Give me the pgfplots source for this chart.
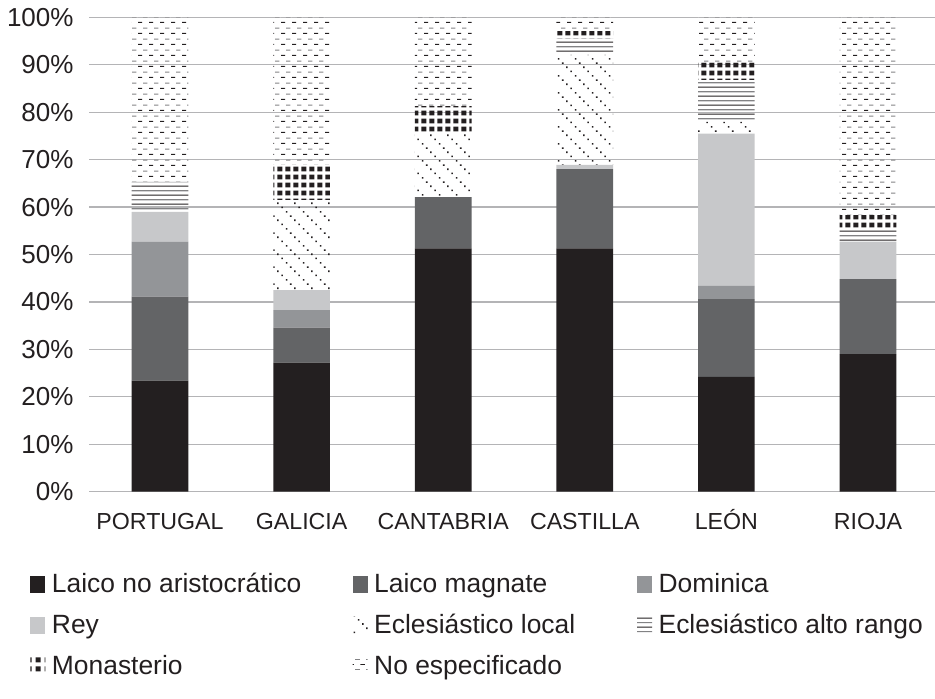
\documentclass[border=0pt]{standalone}
\usepackage{fontspec}
\setmainfont{Liberation Sans}
\usepackage{pgfplots}
\pgfplotsset{compat=1.18}
\usetikzlibrary{patterns}

\definecolor{cNegro}{RGB}{35,31,32}
\definecolor{cMagnate}{RGB}{99,100,102}
\definecolor{cDominica}{RGB}{147,149,152}
\definecolor{cRey}{RGB}{199,200,202}
\definecolor{cGrid}{RGB}{180,180,182}
\definecolor{cPatGris}{RGB}{130,130,132}

% no especificado: horizontal dashes, rows alternate black / grey
\pgfdeclarepatterninherentlycolored{nospec}
  {\pgfpointorigin}{\pgfpoint{5.3pt}{5.3pt}}{\pgfpoint{5.3pt}{5.3pt}}
  {
    \pgfsetfillcolor{cNegro}
    \pgfpathrectangle{\pgfpoint{0pt}{0.6pt}}{\pgfpoint{2.2pt}{0.5pt}}
    \pgfusepath{fill}
    \pgfsetfillcolor{cPatGris}
    \pgfpathrectangle{\pgfpoint{2.65pt}{3.25pt}}{\pgfpoint{2.2pt}{0.5pt}}
    \pgfusepath{fill}
  }
% eclesiastico local: dotted diagonal lines
\pgfdeclarepatterninherentlycolored{ecloc}
  {\pgfpointorigin}{\pgfpoint{8.4pt}{8.4pt}}{\pgfpoint{8.4pt}{8.4pt}}
  {
    \pgfsetfillcolor{cNegro}
    \pgfpathrectangle{\pgfpoint{0.4pt}{7.2pt}}{\pgfpoint{0.8pt}{0.8pt}}
    \pgfpathrectangle{\pgfpoint{2.5pt}{5.1pt}}{\pgfpoint{0.8pt}{0.8pt}}
    \pgfpathrectangle{\pgfpoint{4.6pt}{3.0pt}}{\pgfpoint{0.8pt}{0.8pt}}
    \pgfpathrectangle{\pgfpoint{6.7pt}{0.9pt}}{\pgfpoint{0.8pt}{0.8pt}}
    \pgfusepath{fill}
  }
% eclesiastico alto rango: horizontal lines
\pgfdeclarepatterninherentlycolored{altor}
  {\pgfpointorigin}{\pgfpoint{4pt}{4.4pt}}{\pgfpoint{4pt}{4.4pt}}
  {
    \pgfsetfillcolor{cNegro}
    \pgfpathrectangle{\pgfpoint{0pt}{0.2pt}}{\pgfpoint{4pt}{0.55pt}}
    \pgfusepath{fill}
    \pgfsetfillcolor{cPatGris}
    \pgfpathrectangle{\pgfpoint{0pt}{2.4pt}}{\pgfpoint{4pt}{0.55pt}}
    \pgfusepath{fill}
  }
% monasterio: black squares
\pgfdeclarepatterninherentlycolored{monas}
  {\pgfpointorigin}{\pgfpoint{4.2pt}{4.2pt}}{\pgfpoint{4.2pt}{4.2pt}}
  {
    \pgfsetfillcolor{cNegro}
    \pgfpathrectangle{\pgfpoint{0.8pt}{0.8pt}}{\pgfpoint{2.6pt}{2.6pt}}
    \pgfusepath{fill}
  }

\begin{document}
\begin{tikzpicture}
\begin{axis}[
    at={(44.6pt,103.15pt)}, anchor=south west,
    scale only axis,
    width=424.8pt, height=237.2pt,
    ybar stacked,
    bar width=0.4,
    xmin=-0.5, xmax=5.5,
    ymin=0, ymax=100,
    xtick={0,1,2,3,4,5},
    xticklabels={PORTUGAL,GALICIA,CANTABRIA,CASTILLA,LEÓN,RIOJA},
    ytick={0,10,...,100},
    yticklabels={0\%,10\%,20\%,30\%,40\%,50\%,60\%,70\%,80\%,90\%,100\%},
    axis line style={draw=none},
    major tick length=0pt,
    ymajorgrids=true,
    grid style={cGrid, line width=0.65pt},
    tick label style={text=cNegro},
    yticklabel style={font=\fontsize{13}{15}\selectfont, xshift=-4.3pt},
    xticklabel style={font=\fontsize{11.6}{14}\selectfont, text height=9pt, text depth=2.5pt, yshift=-6.4pt},
    legend columns=3,
    legend cell align=left,
    legend style={
        at={(-0.0697,-0.163)}, anchor=north west,
        draw=none, fill=none, inner sep=0pt,
        font=\fontsize{13.2}{15}\selectfont, text=cNegro,
        row sep=5.2pt,
        /tikz/every odd column/.append style={column sep=1.3pt},
        /tikz/every even column/.append style={column sep=23.6pt},
    },
    legend image code/.code={\path[#1] (0pt,-4.3pt) rectangle (7.5pt,4.3pt);},
]
% order: PORTUGAL, GALICIA, CANTABRIA, CASTILLA, LEON, RIOJA
\addplot[fill=cNegro, draw=none] coordinates {(0,23.4) (1,27.2) (2,51.3) (3,51.3) (4,24.2) (5,29.0)};
\addplot[fill=cMagnate, draw=none] coordinates {(0,17.7) (1,7.4) (2,10.8) (3,16.7) (4,16.4) (5,15.8)};
\addplot[fill=cDominica, draw=none] coordinates {(0,11.6) (1,3.7) (2,0) (3,0) (4,2.8) (5,0)};
\addplot[fill=cRey, draw=none] coordinates {(0,6.3) (1,4.2) (2,0) (3,0.9) (4,32.1) (5,7.9)};
\addplot[pattern=ecloc, draw=none] coordinates {(0,0) (1,19.0) (2,13.4) (3,23.2) (4,2.5) (5,0)};
\addplot[pattern=altor, draw=none] coordinates {(0,6.3) (1,0) (2,0) (3,3.4) (4,8.8) (5,2.5)};
\addplot[pattern=monas, draw=none] coordinates {(0,0) (1,7.4) (2,5.8) (3,1.6) (4,3.7) (5,3.1)};
\addplot[pattern=nospec, draw=none] coordinates {(0,34.7) (1,31.1) (2,18.7) (3,2.9) (4,9.5) (5,41.7)};
\legend{Laico no aristocrático, Laico magnate, Dominica, Rey, Eclesiástico local\hspace*{5.3pt}, Eclesiástico alto rango, Monasterio, No especificado}
\end{axis}
\pgfresetboundingbox
\path (0,0) rectangle (467.5pt,349pt);
\end{tikzpicture}
\end{document}
